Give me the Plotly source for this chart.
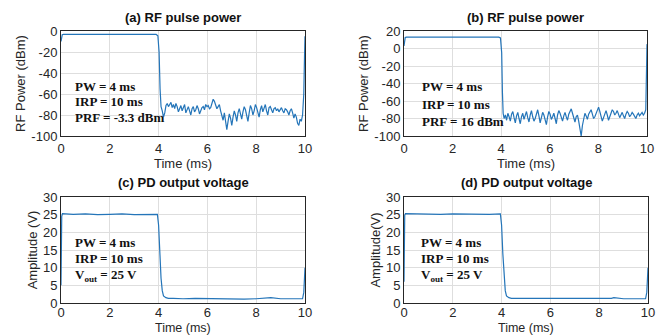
import numpy as np
import plotly.graph_objects as go

# ---------------- data ----------------
# (a) RF pulse power, PRF = -3.3 dBm
a_on_t = [0.0, 0.02, 0.05, 0.1, 1.0, 2.0, 3.0, 3.9, 3.97, 4.02, 4.06, 4.1]
a_on_v = [-10, -5, -3.6, -3.3, -3.3, -3.3, -3.3, -3.3, -4.5, -20, -55, -72]
a_noise = [-76, -82, -78, -71, -69, -72, -70, -68, -73, -70, -74, -69,
           -72, -77, -74, -71, -76, -73, -70, -78, -75, -72, -76, -80,
           -74, -72, -77, -75, -71, -74, -79, -76, -73, -72, -75, -70,
           -72, -71, -74, -73, -68, -65, -67, -71, -74, -72, -70, -76,
           -80, -85, -78, -88, -94, -86, -79, -83, -90, -82, -76, -80,
           -86, -78, -74, -79, -84, -77, -72, -75, -82, -86, -78, -71,
           -74, -80, -76, -70, -73, -79, -82, -75, -71, -77, -74, -70,
           -76, -80, -73, -72, -75, -78, -74, -73, -76, -74, -77, -75,
           -73, -76, -78, -74, -75, -77, -80, -76, -74, -78, -83, -79,
           -82, -88, -90, -84, -86, -80]
a_end_t = [9.95, 9.98, 10.0]
a_end_v = [-60, -25, -5]

# (b) RF pulse power, PRF = 16 dBm
b_on_t = [0.0, 0.02, 0.05, 0.1, 1.0, 2.0, 3.0, 3.9, 3.97, 4.02, 4.05, 4.08]
b_on_v = [3, 10, 12.5, 13, 13, 13, 13, 13, 12, -5, -50, -74]
b_noise = [-80, -76, -82, -74, -78, -83, -75, -72, -79, -85, -77, -73,
           -80, -86, -78, -74, -81, -77, -72, -79, -84, -76, -71, -78,
           -83, -80, -74, -70, -77, -85, -79, -73, -76, -82, -87, -78,
           -72, -75, -81, -78, -74, -80, -86, -76, -71, -74, -79, -83,
           -77, -73, -78, -82, -75, -71, -69, -74, -80, -84, -78, -76,
           -83, -90, -100, -88, -79, -74, -77, -81, -75, -72, -70, -75,
           -80, -78, -74, -69, -67, -72, -77, -83, -79, -74, -71, -76,
           -82, -78, -73, -70, -72, -76, -74, -71, -75, -79, -76, -73,
           -77, -80, -75, -72, -74, -78, -76, -73, -75, -78, -80, -76,
           -74, -77, -75, -73, -76, -74]
b_end_t = [9.95, 9.98, 10.0]
b_end_v = [-70, -30, 5]

# (c) PD output voltage
c_on_t = [0.0, 0.01, 0.03, 0.06, 0.5, 1.0, 1.5, 2.0, 2.5, 3.0, 3.5, 3.95,
          4.0, 4.05, 4.1, 4.15, 4.2, 4.3, 4.4]
c_on_v = [5, 18, 24.5, 25.3, 25.1, 25.2, 25.0, 25.1, 25.2, 25.0, 25.1, 25.1,
          22, 14, 7, 3.5, 2.0, 1.5, 1.3]
c_tail_t = [4.6, 5.0, 5.5, 6.0, 6.5, 7.0, 7.5, 8.0, 8.5, 8.6, 9.0, 9.5, 9.9, 9.95, 10.0]
c_tail_v = [1.3, 1.2, 1.3, 1.2, 1.25, 1.2, 1.1, 1.2, 1.3, 1.5, 1.2, 1.2, 1.2, 3, 10]

# (d) PD output voltage
d_on_t = [0.0, 0.01, 0.03, 0.06, 0.5, 1.0, 1.5, 2.0, 2.5, 3.0, 3.5, 3.95,
          4.0, 4.05, 4.1, 4.15, 4.2, 4.3, 4.4]
d_on_v = [6, 19, 24.8, 25.3, 25.2, 25.3, 25.1, 25.2, 25.1, 25.2, 25.1, 25.2,
          22, 14, 7, 3.5, 2.0, 1.5, 1.3]
d_tail_t = [4.6, 5.0, 5.5, 6.0, 6.5, 7.0, 7.5, 8.0, 8.5, 8.6, 9.0, 9.5, 9.9, 9.95, 10.0]
d_tail_v = [1.3, 1.2, 1.25, 1.2, 1.2, 1.15, 1.1, 1.2, 1.3, 1.5, 1.2, 1.2, 1.2, 3, 10]

x_ticks = [0, 2, 4, 6, 8, 10]
rf_a_ticks = [-100, -80, -60, -40, -20, 0]
rf_b_ticks = [-100, -80, -60, -40, -20, 0, 20]
pd_ticks = [0, 5, 10, 15, 20, 25, 30]

a_t = a_on_t + list(np.linspace(4.15, 9.9, len(a_noise))) + a_end_t
a_v = a_on_v + a_noise + a_end_v
b_t = b_on_t + list(np.linspace(4.12, 9.9, len(b_noise))) + b_end_t
b_v = b_on_v + b_noise + b_end_v
c_t = c_on_t + c_tail_t
c_v = c_on_v + c_tail_v
d_t = d_on_t + d_tail_t
d_v = d_on_v + d_tail_v

# ---------------- figure ----------------
W, H = 664, 336
LINE = "#2475b9"
TXT = "#262626"

fig = go.Figure()

panels = [
    dict(t=a_t, v=a_v, xd=(61, 305), yd=(31, 136), yr=[-100, 0], yt=rf_a_ticks,
         title="(a) RF pulse power", ytitle="RF Power (dBm)", xt_top=155, xt_fs=13, tso=0,
         notes=["PW = 4 ms", "IRP = 10 ms", "PRF = -3.3 dBm"], nx=73, ny=[86, 101, 117]),
    dict(t=b_t, v=b_v, xd=(404, 647), yd=(31, 136), yr=[-100, 20], yt=rf_b_ticks,
         title="(b) RF pulse power", ytitle="RF Power (dBm)", xt_top=155, xt_fs=13, tso=0,
         notes=["PW = 4 ms", "IRP = 10 ms", "PRF = 16 dBm"], nx=420, ny=[87, 104, 121]),
    dict(t=c_t, v=c_v, xd=(61, 305), yd=(197, 303), yr=[0, 30], yt=pd_ticks,
         title="(c) PD output voltage", ytitle="Amplitude (V)", xt_top=320, xt_fs=12.5, tso=-3,
         notes=["PW = 4 ms", "IRP = 10 ms", "V<sub>out</sub> = 25 V"], nx=73, ny=[242, 258, 275]),
    dict(t=d_t, v=d_v, xd=(404, 648), yd=(197, 303), yr=[0, 30], yt=pd_ticks,
         title="(d) PD output voltage", ytitle="Amplitude(V)", xt_top=320, xt_fs=12.5, tso=-3,
         notes=["PW = 4 ms", "IRP = 10 ms", "V<sub>out</sub> = 25 V"], nx=419, ny=[242, 258, 275]),
]

annotations = []
for i, p in enumerate(panels):
    k = "" if i == 0 else str(i + 1)
    xa, ya = "x" + k, "y" + k
    fig.add_trace(go.Scatter(x=p["t"], y=p["v"], mode="lines",
                             line=dict(color=LINE, width=1.2),
                             xaxis=xa, yaxis=ya, showlegend=False))
    axcommon = dict(showline=True, mirror=True, linecolor=TXT, linewidth=1,
                    showgrid=True, gridcolor="#dedede", gridwidth=1,
                    zeroline=False, ticks="", automargin=False,
                    tickfont=dict(family="Liberation Sans", size=13, color=TXT))
    fig.update_layout(**{
        "xaxis" + k: dict(axcommon, domain=[p["xd"][0] / W, p["xd"][1] / W],
                          range=[0, 10], tickvals=x_ticks, ticklabelstandoff=p["tso"],
                          ticktext=[str(v) for v in x_ticks], anchor=ya),
        "yaxis" + k: dict(axcommon, domain=[1 - p["yd"][1] / H, 1 - p["yd"][0] / H],
                          range=p["yr"], tickvals=p["yt"],
                          ticktext=[str(v) for v in p["yt"]], anchor=xa,
                          title=dict(text=p["ytitle"], standoff=2,
                                     font=dict(family="Liberation Sans", size=13, color=TXT))),
    })
    cx = (p["xd"][0] + p["xd"][1]) / 2 / W
    annotations.append(dict(text="<b>" + p["title"] + "</b>", x=cx,
                            y=1 - (p["yd"][0] - 14) / H, xref="paper", yref="paper",
                            showarrow=False, xanchor="center", yanchor="middle",
                            font=dict(family="Liberation Sans", size=13, color="#111111")))
    annotations.append(dict(text="Time (ms)", x=cx, y=1 - p["xt_top"] / H,
                            xref="paper", yref="paper", showarrow=False,
                            xanchor="center", yanchor="top", borderpad=0,
                            font=dict(family="Liberation Sans", size=p["xt_fs"], color=TXT)))
    for txt, yy in zip(p["notes"], p["ny"]):
        annotations.append(dict(text="<b>" + txt + "</b>", x=p["nx"] / W, y=1 - yy / H,
                                xref="paper", yref="paper", showarrow=False,
                                xanchor="left", yanchor="middle",
                                font=dict(family="Liberation Serif", size=13, color="#111111")))

fig.update_layout(width=W, height=H, margin=dict(l=0, r=0, t=0, b=0),
                  paper_bgcolor="white", plot_bgcolor="white",
                  annotations=annotations)

fig.write_html("out.html", config={"displayModeBar": False},
               post_script="document.body.style.margin='0';document.body.style.overflow='hidden';")
